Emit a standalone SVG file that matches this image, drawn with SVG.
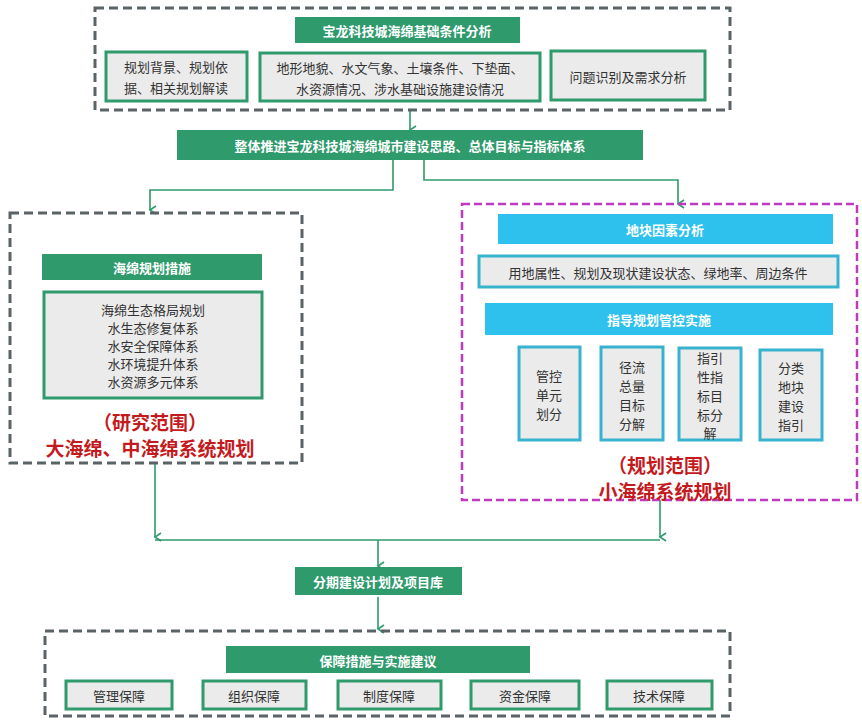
<svg xmlns="http://www.w3.org/2000/svg" width="862" height="722" viewBox="0 0 862 722">
<style>
text{font-family:"Noto Sans CJK SC","Liberation Sans",sans-serif;text-anchor:middle;dominant-baseline:central}
.dash{fill:none;stroke:#5a6366;stroke-width:3;stroke-dasharray:9 5}
.g{fill:#2f9a6c}
.gt{fill:#fff;font-size:13px;font-weight:bold}
.box{fill:#ebebeb;stroke:#2f9a6c;stroke-width:3}
.bbox{fill:#ebebeb;stroke:#38b3cf;stroke-width:3}
.bl{fill:#2ec1ee}
.t{fill:#333;font-size:13px}
.red{fill:#c41a1e;font-size:19px;font-weight:bold}
.c{fill:none;stroke:#2f9a6c;stroke-width:1.6}
</style>
<defs><marker id="a" markerWidth="10" markerHeight="10" refX="5" refY="8" orient="auto" markerUnits="userSpaceOnUse"><path d="M1,2 L5,8 L9,2" fill="none" stroke="#2f9a6c" stroke-width="1.6"/></marker></defs>
<rect width="862" height="722" fill="#fff"/>
<g id="connectors">
<path class="c" d="M410,110 V130" marker-end="url(#a)"/>
<path class="c" d="M393,160 V190 H150 V210" marker-end="url(#a)"/>
<path class="c" d="M424,160 V180 H678 V204" marker-end="url(#a)"/>
<path class="c" d="M155,463 V537" marker-end="url(#a)"/>
<path class="c" d="M660,500 V537" marker-end="url(#a)"/>
<path class="c" d="M155,540 H660"/>
<path class="c" d="M378,540 V566" marker-end="url(#a)"/>
<path class="c" d="M378,597 V629" marker-end="url(#a)"/>
</g>
<g id="top">
<rect class="dash" x="95" y="8" width="635" height="102"/>
<rect class="g" x="295" y="17" width="225" height="26"/><text class="gt" x="407" y="30">宝龙科技城海绵基础条件分析</text>
<rect class="box" x="106" y="52" width="141" height="49"/><text class="t" x="176" y="66">规划背景、规划依</text><text class="t" x="176" y="87">据、相关规划解读</text>
<rect class="box" x="260" y="53" width="280" height="48"/><text class="t" x="400" y="67">地形地貌、水文气象、土壤条件、下垫面、</text><text class="t" x="400" y="88">水资源情况、涉水基础设施建设情况</text>
<rect class="box" x="551" y="51" width="154" height="49"/><text class="t" x="628" y="76">问题识别及需求分析</text>
</g>
<g id="overall"><rect class="g" x="177" y="130" width="466" height="30"/><text class="gt" x="410" y="145">整体推进宝龙科技城海绵城市建设思路、总体目标与指标体系</text></g>
<g id="left">
<rect class="dash" x="10" y="213" width="292" height="250"/>
<rect class="g" x="42" y="254" width="220" height="26"/><text class="gt" x="152" y="267">海绵规划措施</text>
<rect class="box" x="44" y="292" width="218" height="106"/>
<text class="t" x="153" y="309">海绵生态格局规划</text><text class="t" x="153" y="327">水生态修复体系</text><text class="t" x="153" y="345">水安全保障体系</text><text class="t" x="153" y="363">水环境提升体系</text><text class="t" x="153" y="381">水资源多元体系</text>
<text class="red" x="150" y="421">（研究范围）</text><text class="red" x="150" y="447">大海绵、中海绵系统规划</text>
</g>
<g id="right">
<rect x="462" y="204" width="395" height="296" fill="none" stroke="#c03ac0" stroke-width="2.5" stroke-dasharray="8 4"/>
<rect class="bl" x="498" y="214" width="335" height="30"/><text class="gt" x="665" y="229">地块因素分析</text>
<rect class="bbox" x="479" y="256" width="359" height="31"/><text class="t" x="658" y="272">用地属性、规划及现状建设状态、绿地率、周边条件</text>
<rect class="bl" x="485" y="303" width="348" height="32"/><text class="gt" x="659" y="319">指导规划管控实施</text>
<rect class="bbox" x="519" y="347" width="61" height="93"/><text class="t" x="549" y="375">管控</text><text class="t" x="549" y="394">单元</text><text class="t" x="549" y="413">划分</text>
<rect class="bbox" x="601" y="347" width="62" height="93"/><text class="t" x="632" y="366">径流</text><text class="t" x="632" y="385">总量</text><text class="t" x="632" y="404">目标</text><text class="t" x="632" y="423">分解</text>
<rect class="bbox" x="679" y="348" width="62" height="92"/><text class="t" x="710" y="357">指引</text><text class="t" x="710" y="376">性指</text><text class="t" x="710" y="395">标目</text><text class="t" x="710" y="414">标分</text><text class="t" x="710" y="432">解</text>
<rect class="bbox" x="760" y="350" width="62" height="90"/><text class="t" x="791" y="367">分类</text><text class="t" x="791" y="386">地块</text><text class="t" x="791" y="405">建设</text><text class="t" x="791" y="424">指引</text>
<text class="red" x="665" y="464">（规划范围）</text><text class="red" x="665" y="490">小海绵系统规划</text>
</g>
<g id="phase"><rect class="g" x="295" y="567" width="167" height="28"/><text class="gt" x="378" y="581">分期建设计划及项目库</text></g>
<g id="bottom">
<rect class="dash" x="45" y="631" width="685" height="85"/>
<rect class="g" x="226" y="646" width="304" height="27"/><text class="gt" x="378" y="660">保障措施与实施建议</text>
<rect class="box" x="66" y="681" width="106" height="28"/><text class="t" x="119" y="695">管理保障</text>
<rect class="box" x="203" y="681" width="103" height="28"/><text class="t" x="254" y="695">组织保障</text>
<rect class="box" x="338" y="681" width="103" height="28"/><text class="t" x="389" y="695">制度保障</text>
<rect class="box" x="471" y="681" width="108" height="28"/><text class="t" x="525" y="695">资金保障</text>
<rect class="box" x="607" y="681" width="105" height="28"/><text class="t" x="659" y="695">技术保障</text>
</g>
</svg>
